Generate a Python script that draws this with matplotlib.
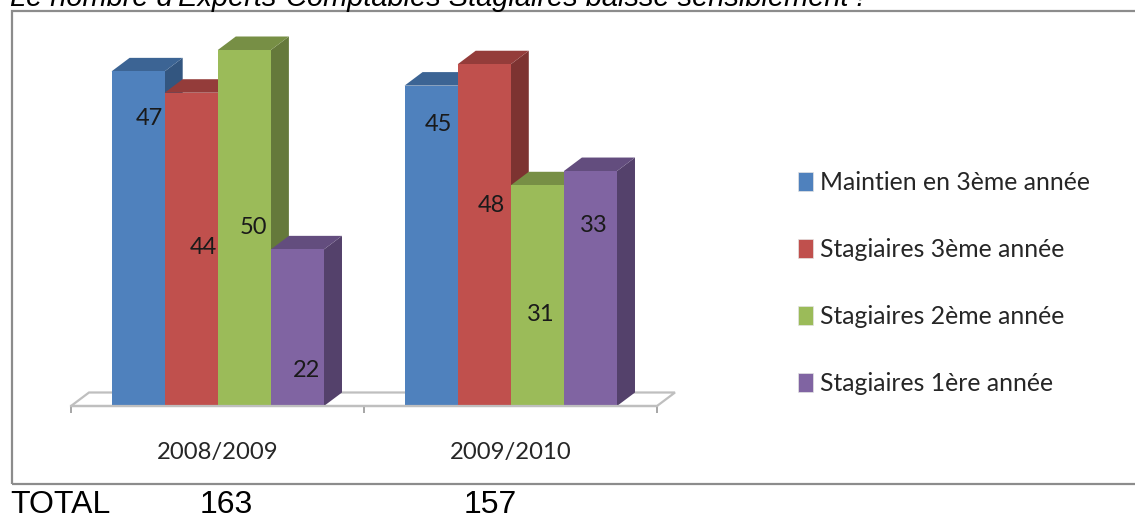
import matplotlib
matplotlib.use('Agg')
import matplotlib.pyplot as plt
from matplotlib.patches import Polygon, Rectangle, Patch

# Data
years = ['2008/2009', '2009/2010']
series_names = ['Maintien en 3ème année', 'Stagiaires 3ème année',
                'Stagiaires 2ème année', 'Stagiaires 1ère année']
maintien_3 = [47, 45]
stagiaires_3 = [44, 48]
stagiaires_2 = [50, 31]
stagiaires_1 = [22, 33]
totals = [163, 157]
# where each value label sits, in axis units (the labels were placed by hand in the original)
label_heights = [[40.4, 39.6], [22.2, 28.2], [25.1, 12.8], [5.0, 25.4]]
label_x = [[-0.232, 0.754], [-0.048, 0.935], [0.121, 1.104], [0.305, 1.283]]

series = [maintien_3, stagiaires_3, stagiaires_2, stagiaires_1]
front_colors = ['#4F81BD', '#C0504D', '#9BBB59', '#8064A2']
top_colors = ['#3C6494', '#943C3A', '#778F45', '#634D7E']
side_colors = ['#335680', '#7D3331', '#65793B', '#54416B']

W, H = 1135, 515
GRID = '#BFBFBF'
TEXT = '#262626'

fig = plt.figure(figsize=(W / 100, H / 100), dpi=100)

# outer frame, runs off the right edge of the picture
fig.add_artist(Rectangle((12 / W, 1 - 484 / H), 1200 / W, 473 / H,
                         transform=fig.transFigure, fill=False,
                         edgecolor='#8C8C8C', linewidth=1.6))

# axes box in pixels: x 71-657, y 406 (value 0) up to 30
ax = fig.add_axes([71 / W, 1 - 406 / H, 586 / W, 376 / H])
ax.set_xlim(-0.5, 1.5)
ax.set_ylim(0, 376 / 7.12)

bar_w = 53.1 / 293
depth_x = 18 / 293
depth_y = 13.5 / 7.12

# floor of the 3D chart
floor = Polygon([(-0.5, 0), (-0.5 + depth_x, depth_y), (1.5 + depth_x, depth_y), (1.5, 0)],
                closed=True, facecolor='white', edgecolor=GRID, linewidth=1.6,
                clip_on=False, zorder=1)
ax.add_patch(floor)

for g in range(len(years)):
    for i, values in enumerate(series):
        v = values[g]
        left = g + (i - 2) * bar_w + 0.001
        right = left + bar_w
        z = 2 + g * 10 + i
        ax.add_patch(Polygon([(right, 0), (right + depth_x, depth_y),
                              (right + depth_x, v + depth_y), (right, v)],
                             closed=True, facecolor=side_colors[i],
                             edgecolor='none', clip_on=False, zorder=z))
        ax.add_patch(Polygon([(left, v), (left + depth_x, v + depth_y),
                              (right + depth_x, v + depth_y), (right, v)],
                             closed=True, facecolor=top_colors[i],
                             edgecolor='none', clip_on=False, zorder=z))
        ax.bar(left, v, width=bar_w, align='edge', color=front_colors[i],
               edgecolor='none', zorder=z + 0.5, clip_on=False)
        ax.text(label_x[i][g], label_heights[i][g], str(v), ha='center', va='center',
                family='Lato', fontsize=17, color='#1A1A1A', zorder=50)

for s in ax.spines.values():
    s.set_visible(False)
ax.spines['bottom'].set_visible(True)
ax.spines['bottom'].set_color(GRID)
ax.spines['bottom'].set_linewidth(1.6)
ax.spines['bottom'].set_zorder(60)
ax.patch.set_alpha(0)
ax.set_yticks([])
ax.set_xticks([-0.5, 0.5, 1.5])
ax.set_xticklabels([])
ax.tick_params(axis='x', which='major', length=5, width=1.4, color='#A6A6A6')
ax.set_xticks([0, 1], minor=True)
ax.set_xticklabels(years, minor=True, family='Lato', fontsize=17.2, color=TEXT)
ax.tick_params(axis='x', which='minor', length=0, pad=26)

handles = [Patch(facecolor=c, edgecolor='#E4E4E4', linewidth=0.5) for c in front_colors]
fig.legend(handles, series_names, loc='center left',
           bbox_to_anchor=(798 / W, 1 - 283 / H), frameon=False,
           prop={'family': 'Lato', 'size': 17.8}, labelcolor=TEXT,
           handlelength=0.6, handleheight=0.85, handletextpad=0.28,
           labelspacing=1.78, borderpad=0, borderaxespad=0)

# top line is cut by the picture edge in the original too
fig.text(10 / W, 1 - 5.5 / H, "Le nombre d'Experts-Comptables Stagiaires baisse sensiblement !",
         family='Liberation Sans', style='italic', fontsize=20.9, color='black',
         ha='left', va='baseline')

fig.text(10 / W, 1 - 513 / H, 'TOTAL', family='Liberation Sans', fontsize=23,
         color='black', ha='left', va='baseline')
for t, x_px in zip(totals, [226, 490]):
    fig.text(x_px / W, 1 - 513 / H, str(t), family='Liberation Sans', fontsize=23,
             color='black', ha='center', va='baseline')

fig.savefig('out.png', dpi=100, facecolor='white')
